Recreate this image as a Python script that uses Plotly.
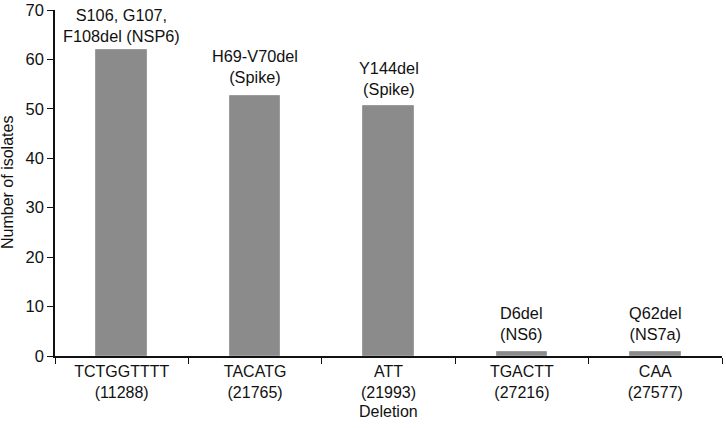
import plotly.graph_objects as go

categories = ["TCTGGTTTT<br>(11288)", "TACATG<br>(21765)", "ATT<br>(21993)",
              "TGACTT<br>(27216)", "CAA<br>(27577)"]
values = [62, 52.7, 50.5, 0.8, 0.8]
bar_labels = ["S106, G107,<br>F108del (NSP6)", "H69-V70del<br>(Spike)", "Y144del<br>(Spike)",
              "D6del<br>(NS6)", "Q62del<br>(NS7a)"]
y_ticks = [0, 10, 20, 30, 40, 50, 60, 70]

FONT = "Liberation Sans, Arial, sans-serif"
label_shift = [3, 8, 6, 7, 7]

W, H = 726, 428
L, R, T, B = 55, 4, 10, 72

fig = go.Figure()
fig.add_trace(go.Bar(
    x=categories, y=values, width=0.38,
    marker=dict(color="#8b8b8b", line=dict(color="#9c9c9c", width=1)),
    showlegend=False, hoverinfo="skip",
))

for c, v, t, s in zip(categories, values, bar_labels, label_shift):
    fig.add_annotation(x=c, y=v, text=t, showarrow=False, yanchor="bottom",
                       yshift=s, font=dict(family=FONT, size=16.3, color="#111"))

pw, ph = W - L - R, H - T - B
# axis titles placed at pixel positions
fig.add_annotation(x=(388 - L) / pw, y=(H - B - 411) / ph, xref="paper", yref="paper",
                   text="Deletion", showarrow=False, xanchor="center", yanchor="middle",
                   font=dict(family=FONT, size=16, color="#111"))
fig.add_annotation(x=(7 - L) / pw, y=(H - B - 183) / ph, xref="paper", yref="paper",
                   text="Number of isolates", textangle=-90, showarrow=False,
                   xanchor="center", yanchor="middle",
                   font=dict(family=FONT, size=16, color="#111"))

fig.update_layout(
    width=W, height=H,
    margin=dict(l=L, r=R, t=T, b=B),
    plot_bgcolor="white", paper_bgcolor="white",
    font=dict(family=FONT, size=16, color="#111"),
    bargap=0,
)
fig.update_xaxes(
    type="category", tickson="boundaries", ticks="outside", ticklen=6, tickwidth=1.3,
    tickcolor="#111", showline=True, linecolor="#111", linewidth=1.5,
    showgrid=False, automargin=False, tickfont=dict(size=16),
)
fig.update_yaxes(
    range=[0, 70], tickvals=y_ticks, ticks="outside", ticklen=6, tickwidth=1.3,
    tickcolor="#111", showline=True, linecolor="#111", linewidth=1.5,
    showgrid=False, zeroline=False, automargin=False, tickfont=dict(size=16.5),
)

fig.write_html("out.html", config={"displayModeBar": False},
               post_script="document.body.style.margin='0px';")
